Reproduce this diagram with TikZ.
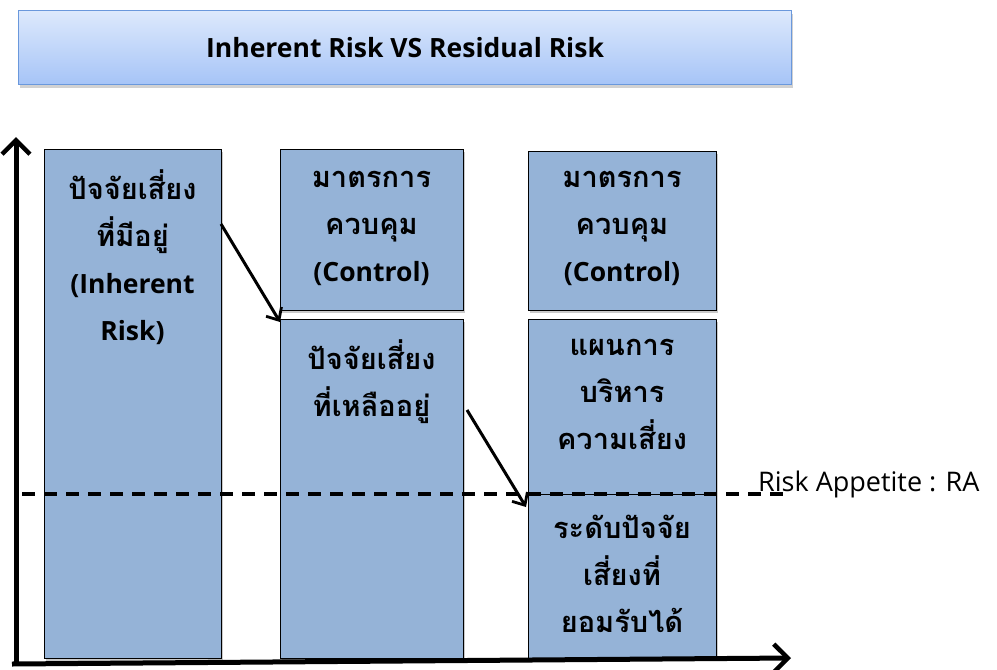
\documentclass[tikz,border=0pt]{standalone}
\usepackage{fontspec}
\setmainfont{Open Sans}
\newfontfamily\thai[Script=Thai]{Loma}
\newcommand\thl[1]{{\thai\fontsize{29}{47}\selectfont #1}}
\usetikzlibrary{shadows,arrows.meta,calc}
\definecolor{boxfill}{HTML}{95B3D7}
\definecolor{titletop}{HTML}{DDE9FC}
\definecolor{titlebot}{HTML}{A6C4F7}
\definecolor{titleedge}{HTML}{6A98DC}
\tikzset{
  colbox/.style={draw=black, line width=0.9pt, fill=boxfill, inner sep=0pt, outer sep=0pt,
    anchor=north west, drop shadow={shadow xshift=2pt, shadow yshift=-3pt, opacity=0.35, fill=black!60}},
  lbl/.style={align=center, inner sep=0pt, anchor=north,
    font=\fontsize{26.5}{47}\selectfont\bfseries},
  axisline/.style={line width=5pt, -{Straight Barb[length=14pt,width=28pt,line width=4.5pt]}},
  flowarrow/.style={line width=3pt, -{Straight Barb[length=10pt,width=18pt,line width=2.8pt]}},
  ralime/.style={line width=3.5pt, dash pattern=on 13pt off 9pt},
}
\begin{document}
\begin{tikzpicture}[x=1pt,y=-1pt]
\useasboundingbox (0,0) rectangle (997,670);
% title
\node[draw=titleedge, line width=1.2pt, top color=titletop, bottom color=titlebot,
  minimum width=773pt, minimum height=74pt, anchor=north west, inner sep=0pt,
  drop shadow={shadow xshift=1pt, shadow yshift=-3pt, opacity=0.3, fill=black!60},
  font=\fontsize{26.5}{30}\selectfont\bfseries] (title) at (18,10) {Inherent Risk VS Residual Risk};
% boxes
\node[colbox, minimum width=177pt, minimum height=509pt] (b1) at (44,149) {};
\node[colbox, minimum width=183pt, minimum height=161pt] (b2a) at (280,149) {};
\node[colbox, minimum width=183pt, minimum height=339pt] (b2b) at (280,319) {};
\node[colbox, minimum width=188pt, minimum height=159pt] (b3a) at (528,151) {};
\node[colbox, minimum width=188pt, minimum height=175pt] (b3b) at (528,319) {};
\node[colbox, minimum width=188pt, minimum height=164pt] (b3c) at (528,494) {};
% labels
\node[lbl] (t1) at ($(b1.north)+(0,20)$) {\thl{ปัจจัยเสี่ยง}\\\thl{ที่มีอยู่}\\(Inherent\\Risk)};
\node[lbl] (t2a) at ($(b2a.north)+(0,22)$) {\thl{มาตรการ}\\\thl{ควบคุม}\\(Control)};
\node[lbl] (t2b) at ($(b2b.north)+(0,20)$) {\thl{ปัจจัยเสี่ยง}\\\thl{ที่เหลืออยู่}};
\node[lbl] (t3a) at ($(b3a.north)+(0,20)$) {\thl{มาตรการ}\\\thl{ควบคุม}\\(Control)};
\node[lbl] (t3b) at ($(b3b.north)+(0,20)$) {\thl{แผนการ}\\\thl{บริหาร}\\\thl{ความเสี่ยง}};
\node[lbl] (t3c) at ($(b3c.north)+(0,21)$) {\thl{ระดับปัจจัย}\\\thl{เสี่ยงที่}\\\thl{ยอมรับได้}};
% axes
\coordinate (origin) at (16,664);
\coordinate (ytip) at (16,137);
\coordinate (xstart) at (12,664);
\coordinate (xtip) at (791,658);
\draw[axisline] (origin) -- (ytip);
\draw[axisline] (xstart) -- (xtip);
% risk appetite line
\coordinate (raleft) at (22,494);
\node[anchor=west, inner sep=0pt, font=\fontsize{27}{30}\selectfont] (ra) at (758,484) {Risk Appetite : RA};
\draw[ralime] (raleft) -- (ra.west |- raleft) -- ++(27,0);
% flow arrows
\draw[flowarrow] ($(b1.north east)+(0,75)$) -- ($(b2b.north west)+(0,3)$);
\draw[flowarrow] ($(b2b.north east)+(4,91)$) -- ($(b3c.north west)+(-2,13)$);
\end{tikzpicture}
\end{document}
